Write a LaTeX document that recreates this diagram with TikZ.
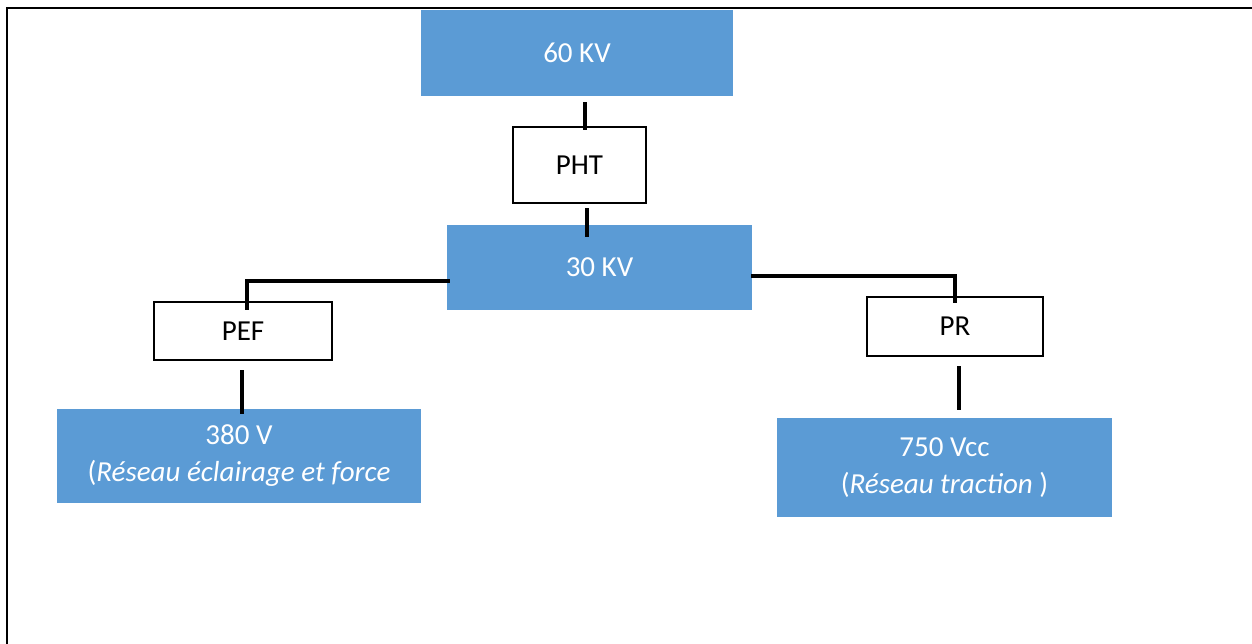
\documentclass[tikz,border=0pt]{standalone}
\usepackage{fontspec}
\setmainfont{Carlito}
\definecolor{officeblue}{HTML}{5B9BD5}
\tikzset{
  base/.style={rectangle, inner sep=0pt, align=center, font=\fontsize{29}{37}\selectfont},
  bluebox/.style={base, fill=officeblue, text=white},
  whitebox/.style={base, draw=black, line width=2.2pt, fill=white, text=black},
  wire/.style={line width=3.6pt, draw=black},
  frameline/.style={line width=2pt, draw=black}
}
\begin{document}
\begin{tikzpicture}[x=1pt,y=-1pt]
\useasboundingbox (0,0) rectangle (1252,644);
\draw[frameline] (7,644) -- (7,8) -- (1252,8);

\node[bluebox, minimum width=312pt, minimum height=86pt] (v60) at (577,53) {60 KV};
\node[whitebox, minimum width=133pt, minimum height=76pt] (pht) at (579.5,165) {PHT};
\node[bluebox, minimum width=305pt, minimum height=85pt] (v30) at (599.5,267.5) {30 KV};
\node[whitebox, minimum width=178pt, minimum height=58pt] (pef) at (243,331) {PEF};
\node[whitebox, minimum width=176pt, minimum height=59pt] (pr) at (955,326.5) {PR};
\node[bluebox, minimum width=364pt, minimum height=94pt] (v380) at (239,456) {380 V\\(\textit{Réseau éclairage et force}};
\node[bluebox, minimum width=335pt, minimum height=99pt] (v750) at (944.5,467.5) {750 Vcc\\(\textit{Réseau traction })};

\draw[wire] ([xshift=8pt,yshift=-6pt]v60.south) -- ([xshift=5.5pt,yshift=-4pt]pht.north);
\draw[wire] ([xshift=7.5pt,yshift=-4pt]pht.south) -- ([xshift=-12.5pt,yshift=-12pt]v30.north);
\draw[wire] ([xshift=3pt,yshift=-13.5pt]v30.west) -| ([xshift=4pt,yshift=-9pt]pef.north);
\draw[wire] ([xshift=-1pt,yshift=-9pt]pef.south) -- ([xshift=3pt,yshift=-5pt]v380.north);
\draw[wire] ([xshift=-1pt,yshift=-8.5pt]v30.east) -| ([yshift=-7pt]pr.north);
\draw[wire] ([xshift=4pt,yshift=-9pt]pr.south) -- ([xshift=14.5pt,yshift=8pt]v750.north);
\end{tikzpicture}
\end{document}
